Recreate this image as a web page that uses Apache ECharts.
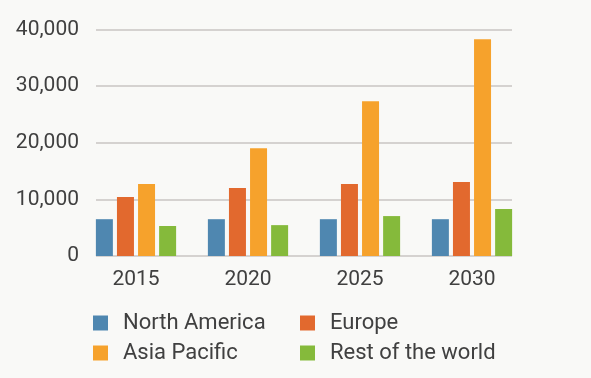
<!DOCTYPE html>
<html lang="en" style="height: 100%">
<head>
  <meta charset="utf-8">
</head>
<body style="height: 100%; margin: 0; background: #f9f9f7">
  <div id="container" style="width: 591px; height: 378px;"></div>

  <script type="text/javascript" src="https://cdn.jsdelivr.net/npm/echarts@6/dist/echarts.min.js"></script>
  <script type="text/javascript">
    var years = ['2015', '2020', '2025', '2030'];
    var northAmerica = [6500, 6500, 6500, 6500];
    var europe = [10400, 12000, 12700, 13050];
    var asiaPacific = [12700, 19050, 27350, 38300];
    var restOfWorld = [5300, 5450, 7050, 8300];
    var seriesNames = ['North America', 'Europe', 'Asia Pacific', 'Rest of the world'];
    var colors = ['#4f87b0', '#e2692e', '#f6a22c', '#85ba3b'];

    var dom = document.getElementById('container');
    var myChart = echarts.init(dom, null, { renderer: 'canvas' });

    var font = 'Roboto, "Noto Sans", sans-serif';
    var values = [northAmerica, europe, asiaPacific, restOfWorld];

    var series = [];
    for (var i = 0; i < values.length; i++) {
      series.push({
        name: seriesNames[i],
        type: 'bar',
        xAxisIndex: 1,
        yAxisIndex: 1,
        data: values[i],
        barWidth: 17,
        barGap: '24%',
        itemStyle: { color: colors[i] }
      });
    }

    // one legend per item so they sit in two columns
    var legendPos = [[93, 312], [300, 312], [93, 342], [300, 342]];
    var legends = [];
    for (var j = 0; j < seriesNames.length; j++) {
      legends.push({
        data: [seriesNames[j]],
        left: legendPos[j][0], top: legendPos[j][1], padding: 0,
        itemWidth: 15, itemHeight: 15, icon: 'rect',
        textStyle: { color: '#404040', fontSize: 22, fontFamily: font, padding: [0, 0, 0, 10] }
      });
    }

    var option = {
      backgroundColor: '#f9f9f7',
      animation: false,
      grid: [
        { left: 96, right: 79, top: 29.5, bottom: 122 },
        { left: 80, right: 63, top: 29.5, bottom: 122 }
      ],
      xAxis: [
        { type: 'value', gridIndex: 0, min: 0, max: 1, show: false },
        {
          type: 'category', gridIndex: 1, data: years,
          axisLine: { show: false }, axisTick: { show: false },
          axisLabel: { color: '#404040', fontSize: 21, fontFamily: font, margin: 13 }
        }
      ],
      yAxis: [
        {
          type: 'value', gridIndex: 0, min: 0, max: 40000, interval: 10000,
          axisLine: { show: false }, axisTick: { show: false },
          axisLabel: {
            color: '#404040', fontSize: 21, fontFamily: font, margin: 17,
            formatter: function (v) { return v.toLocaleString('en-US'); }
          },
          splitLine: { lineStyle: { color: '#c9c5c3', width: 1.5 } }
        },
        {
          type: 'value', gridIndex: 1, min: 0, max: 40000, interval: 10000,
          show: false, splitLine: { show: false }
        }
      ],
      legend: legends,
      series: series
    };

    myChart.setOption(option);
    window.addEventListener('resize', myChart.resize);
  </script>
</body>
</html>
